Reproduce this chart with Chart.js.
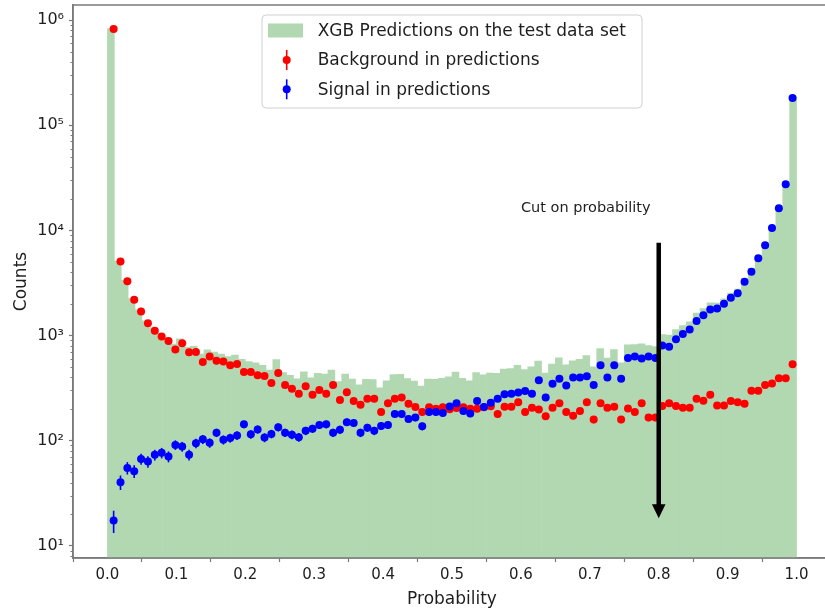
<!DOCTYPE html>
<html>
<head>
<meta charset="utf-8">
<script src="https://cdn.jsdelivr.net/npm/chart.js@4.4.0/dist/chart.umd.min.js"></script>
<style>
html,body{margin:0;padding:0;background:#fff;overflow:hidden;width:825px;height:611px}
#wrap{width:840px;height:611px;position:relative}
</style>
</head>
<body>
<div id="wrap"><canvas id="c" width="840" height="611"></canvas></div>
<script>
// ---- data ----
const seriesLabels = ['XGB Predictions on the test data set', 'Background in predictions', 'Signal in predictions'];

// histogram (green), 100 bins over [0, 1]
const histRange = [0, 1];
const histValues = [
  830000, 5100, 3350, 2250, 1750, 1380, 1180, 1050, 960, 830,
  930, 770, 790, 665, 730, 695, 665, 630, 650, 595,
  565, 550, 520, 470, 590, 445, 418, 388, 452, 395,
  438, 430, 470, 365, 430, 386, 339, 384, 380, 318,
  370, 425, 428, 390, 368, 330, 385, 383, 392, 405,
  450, 392, 370, 445, 422, 440, 438, 480, 486, 520,
  475, 505, 570, 440, 535, 612, 525, 575, 595, 645,
  505, 750, 610, 735, 550, 815, 820, 835, 800, 785,
  1020, 1010, 1140, 1245, 1350, 1630, 1800, 2040, 2030, 2230,
  2530, 2760, 3480, 4350, 5730, 7550, 10900, 16650, 27800, 185000
];

// points: 100 bins over the prediction range
const pointRange = [0.004, 0.9992];
const backgroundValues = [
  820000, 5060, 3280, 2190, 1690, 1310, 1110, 977, 889, 735,
  845, 694, 697, 561, 630, 577, 565, 522, 537, 451,
  451, 419, 413, 354, 441, 339, 311, 280, 330, 274,
  304, 280, 339, 243, 289, 239, 220, 251, 251, 187,
  227, 251, 257, 225, 209, 187, 208, 201, 208, 199,
  205, 208, 201, 201, 208, 212, 179, 210, 210, 232,
  187, 206, 198, 171, 206, 227, 187, 173, 192, 232,
  159, 227, 206, 210, 159, 202, 187, 227, 166, 166,
  214, 227, 214, 206, 206, 250, 240, 274, 216, 216,
  239, 232, 225, 299, 299, 339, 349, 393, 393, 533
];
const signalValues = [
  17.4, 40.3, 55.1, 51.3, 67.1, 63.3, 73.3, 76.6, 70.6, 91.2,
  87.9, 73.3, 94.6, 103, 95.3, 119, 102, 106, 112, 143,
  115, 128, 107, 116, 134, 119, 114, 108, 124, 130,
  141, 143, 119, 127, 150, 147, 119, 133, 124, 138,
  141, 179, 179, 161, 166, 137, 187, 187, 183, 211,
  227, 192, 181, 239, 209, 230, 251, 277, 280, 287,
  296, 280, 376, 257, 347, 387, 334, 398, 398, 410,
  339, 522, 398, 522, 387, 612, 630, 603, 630, 612,
  802, 780, 922, 1036, 1138, 1376, 1560, 1763, 1803, 2010,
  2290, 2520, 3250, 4050, 5430, 7210, 10540, 16230, 27420, 181500
];

const xTickValues = [0, 0.1, 0.2, 0.3, 0.4, 0.5, 0.6, 0.7, 0.8, 0.9, 1.0];
const xTickLabels = ['0.0', '0.1', '0.2', '0.3', '0.4', '0.5', '0.6', '0.7', '0.8', '0.9', '1.0'];
const yTickValues = [10, 100, 1000, 10000, 100000, 1000000];
const yTickLabels = ['10\u00B9', '10\u00B2', '10\u00B3', '10\u2074', '10\u2075', '10\u2076'];

const cutValue = 0.8;
const arrowTopValue = 7640;
const arrowTipValue = 18.3;
const cutText = 'Cut on probability';
const cutTextAt = [0.6, 15000];

// ---- build datasets ----
const nb = histValues.length;
const bw = (histRange[1] - histRange[0]) / nb;
const histData = histValues.map((v, j) => ({ x: histRange[0] + bw * (j + 0.5), y: v }));
const pw = (pointRange[1] - pointRange[0]) / backgroundValues.length;
const toPts = arr => arr.map((v, i) => ({ x: pointRange[0] + pw * (i + 0.5), y: v }));

const FONT = 'DejaVu Sans';
const SPINE = '#7a7a7a';
const TXT = '#1e1e1e';

const decor = {
  id: 'decor',
  beforeDatasetDraw(chart, args) {
    const ds = chart.data.datasets[args.index];
    if (!ds.errorBars) return;
    const xs = chart.scales.x, ys = chart.scales.y, ctx = chart.ctx;
    ctx.save();
    ctx.strokeStyle = ds.borderColor;
    ctx.lineWidth = 1.6;
    ds.data.forEach(p => {
      const e = Math.sqrt(p.y);
      const px = xs.getPixelForValue(p.x);
      const lo = ys.getPixelForValue(Math.max(p.y - e, ys.min));
      const hi = ys.getPixelForValue(p.y + e);
      ctx.beginPath(); ctx.moveTo(px, lo); ctx.lineTo(px, hi); ctx.stroke();
    });
    ctx.restore();
  },
  afterDatasetsDraw(chart) {
    const ctx = chart.ctx, a = chart.chartArea;
    const xs = chart.scales.x, ys = chart.scales.y;
    ctx.save();
    // minor ticks on log axis
    ctx.strokeStyle = SPINE; ctx.lineWidth = 1;
    yTickValues.forEach(v => {
      for (let m = 2; m <= 9; m++) {
        const mv = v / 10 * m;
        if (mv < ys.min || mv > ys.max) continue;
        const py = Math.round(ys.getPixelForValue(mv)) + 0.5;
        ctx.beginPath(); ctx.moveTo(a.left - 2.5, py); ctx.lineTo(a.left, py); ctx.stroke();
      }
    });
    // frame
    ctx.lineWidth = 1.5; ctx.strokeStyle = SPINE;
    ctx.strokeRect(a.left, a.top, a.right - a.left, a.bottom - a.top);

    // arrow
    const ax = xs.getPixelForValue(cutValue);
    const ay0 = ys.getPixelForValue(arrowTopValue);
    const ay1 = ys.getPixelForValue(arrowTipValue);
    const hl = 14, hw = 6.8;
    ctx.fillStyle = '#000'; ctx.strokeStyle = '#000';
    ctx.lineWidth = 4.5;
    ctx.beginPath(); ctx.moveTo(ax, ay0); ctx.lineTo(ax, ay1 - hl + 1); ctx.stroke();
    ctx.beginPath(); ctx.moveTo(ax - hw, ay1 - hl); ctx.lineTo(ax + hw, ay1 - hl); ctx.lineTo(ax, ay1); ctx.closePath(); ctx.fill();

    // annotation text
    ctx.font = '14.5px "' + FONT + '"';
    ctx.fillStyle = TXT; ctx.textAlign = 'left'; ctx.textBaseline = 'alphabetic';
    ctx.fillText(cutText, xs.getPixelForValue(cutTextAt[0]), ys.getPixelForValue(cutTextAt[1]));

    // legend
    const lw = 380, lh = 93;
    const lx = (a.left + a.right) / 2 - lw / 2, ly = a.top + 10;
    const r = 4;
    ctx.beginPath();
    ctx.moveTo(lx + r, ly); ctx.lineTo(lx + lw - r, ly); ctx.quadraticCurveTo(lx + lw, ly, lx + lw, ly + r);
    ctx.lineTo(lx + lw, ly + lh - r); ctx.quadraticCurveTo(lx + lw, ly + lh, lx + lw - r, ly + lh);
    ctx.lineTo(lx + r, ly + lh); ctx.quadraticCurveTo(lx, ly + lh, lx, ly + lh - r);
    ctx.lineTo(lx, ly + r); ctx.quadraticCurveTo(lx, ly, lx + r, ly); ctx.closePath();
    ctx.fillStyle = 'rgba(255,255,255,0.8)'; ctx.fill();
    ctx.strokeStyle = '#d0d0d0'; ctx.lineWidth = 1; ctx.stroke();
    const rows = [ly + 15.5, ly + 45, ly + 74.3];
    const dsets = chart.data.datasets;
    ctx.fillStyle = dsets[0].backgroundColor;
    ctx.fillRect(lx + 6, rows[0] - 7, 35, 14);
    [1, 2].forEach(k => {
      const cx = lx + 24.7, cy = rows[k];
      ctx.strokeStyle = dsets[k].borderColor; ctx.lineWidth = 1.6;
      ctx.beginPath(); ctx.moveTo(cx, cy - 10); ctx.lineTo(cx, cy + 10); ctx.stroke();
      ctx.fillStyle = dsets[k].backgroundColor;
      ctx.beginPath(); ctx.arc(cx, cy, 4, 0, Math.PI * 2); ctx.fill();
    });
    ctx.font = '17px "' + FONT + '"';
    ctx.fillStyle = TXT; ctx.textAlign = 'left'; ctx.textBaseline = 'middle';
    dsets.forEach((d, k) => ctx.fillText(d.label, lx + 55.7, rows[k] + 1));
    ctx.restore();
  }
};

new Chart(document.getElementById('c'), {
  type: 'bar',
  data: {
    datasets: [
      { type: 'bar', label: seriesLabels[0], data: histData, backgroundColor: '#b2d8b2',
        borderWidth: 0, barPercentage: 1, categoryPercentage: 1, grouped: false, order: 3 },
      { type: 'scatter', label: seriesLabels[1], data: toPts(backgroundValues), backgroundColor: '#ff0000',
        borderColor: '#ff0000', pointRadius: 4, pointBorderWidth: 0, showLine: false, order: 2, errorBars: true },
      { type: 'scatter', label: seriesLabels[2], data: toPts(signalValues), backgroundColor: '#0000ff',
        borderColor: '#0000ff', pointRadius: 4, pointBorderWidth: 0, showLine: false, order: 1, errorBars: true }
    ]
  },
  options: {
    responsive: false,
    animation: false,
    devicePixelRatio: 1,
    layout: { padding: { top: 5, right: 9, left: 0, bottom: 0 } },
    plugins: { legend: { display: false }, tooltip: { enabled: false } },
    scales: {
      x: {
        type: 'linear', min: -0.05, max: 1.05, offset: false,
        grid: { display: true, drawOnChartArea: false, drawTicks: true, tickLength: 4, tickColor: SPINE, tickWidth: 1.2 },
        border: { display: true, color: SPINE, width: 1.5 },
        afterBuildTicks: s => { s.ticks = xTickValues.map(v => ({ value: v })); },
        afterFit: s => { s.height = 53; s.paddingLeft = 0; s.paddingRight = 0; },
        ticks: {
          autoSkip: false, maxRotation: 0, padding: 4, color: TXT,
          font: { family: FONT, size: 15 },
          callback: v => { const i = xTickValues.findIndex(t => Math.abs(t - v) < 1e-9); return i >= 0 ? xTickLabels[i] : ''; }
        },
        title: { display: true, text: 'Probability', color: TXT, font: { family: FONT, size: 17 }, padding: { top: 0, bottom: 1 } }
      },
      y: {
        type: 'logarithmic', min: 7.66, max: 1.39e6,
        grid: { display: true, drawOnChartArea: false, drawTicks: true, tickLength: 4, tickColor: SPINE, tickWidth: 1.2 },
        border: { display: true, color: SPINE, width: 1.5 },
        afterBuildTicks: s => { s.ticks = yTickValues.map(v => ({ value: v, major: true })); },
        afterFit: s => { s.width = 73; s.paddingTop = 0; s.paddingBottom = 0; },
        ticks: {
          autoSkip: false, padding: 5, color: TXT,
          font: { family: FONT, size: 16 },
          callback: v => { const i = yTickValues.findIndex(t => Math.abs(t - v) / t < 1e-6); return i >= 0 ? yTickLabels[i] : ''; }
        },
        title: { display: true, text: 'Counts', color: TXT, font: { family: FONT, size: 17 }, padding: { top: 11, bottom: 0 } }
      }
    }
  },
  plugins: [decor]
});
</script>
</body>
</html>
